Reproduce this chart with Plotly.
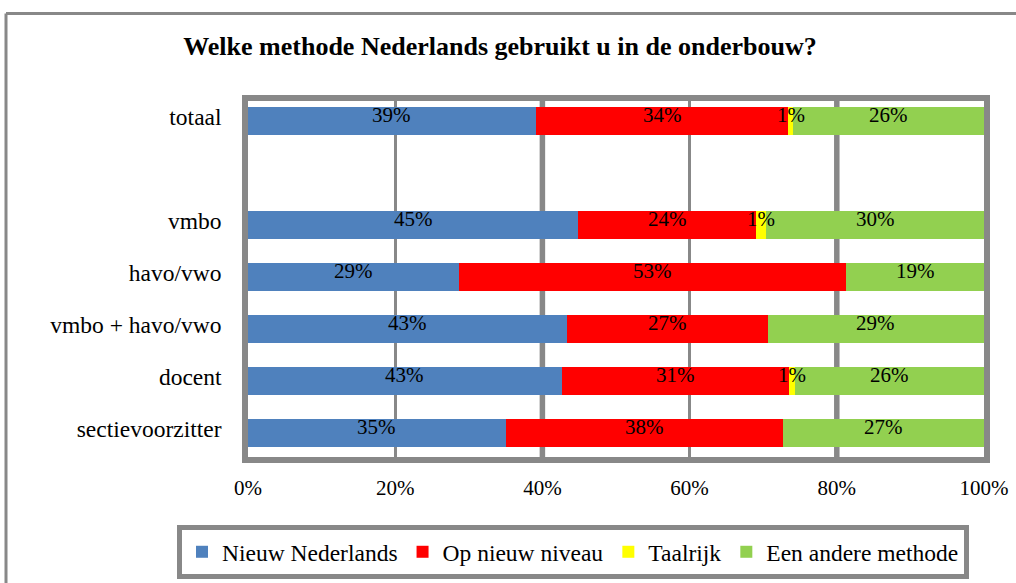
import plotly.graph_objects as go

categories = ["totaal", " ", "vmbo", "havo/vwo", "vmbo + havo/vwo", "docent", "sectievoorzitter"]
series_names = ["Nieuw Nederlands", "Op nieuw niveau", "Taalrijk", "Een andere methode"]
series_colors = ["#4F81BD", "#FF0000", "#FFFF00", "#92D050"]

nieuw_nederlands = [0.391, None, 0.449, 0.287, 0.433, 0.426, 0.350]
op_nieuw_niveau = [0.343, None, 0.241, 0.526, 0.273, 0.309, 0.377]
taalrijk = [0.007, None, 0.014, 0.0, 0.0, 0.008, 0.0]
een_andere_methode = [0.259, None, 0.296, 0.187, 0.294, 0.257, 0.273]
series_values = [nieuw_nederlands, op_nieuw_niveau, taalrijk, een_andere_methode]

x_ticks = [0, 0.2, 0.4, 0.6, 0.8, 1.0]
x_tick_labels = ["0%", "20%", "40%", "60%", "80%", "100%"]

title_text = "Welke methode Nederlands gebruikt u in de onderbouw?"
FONT = "Liberation Serif"
GREY = "#888888"

fig = go.Figure()
for name, color, vals in zip(series_names, series_colors, series_values):
    ys = [c for c, v in zip(categories, vals) if v is not None]
    xs = [v for v in vals if v is not None]
    fig.add_trace(go.Bar(
        y=ys, x=xs, name=name, orientation="h",
        marker=dict(color=color, line=dict(width=0)),
        width=0.53, hoverinfo="skip",
    ))

# data labels centred in each segment
annotations = []
for ci, cat in enumerate(categories):
    start = 0.0
    for vals in series_values:
        v = vals[ci]
        if v is None:
            continue
        if v > 0:
            annotations.append(dict(
                x=start + v / 2, y=cat, xref="x", yref="y",
                text=f"{round(v * 100)}%", showarrow=False,
                font=dict(family=FONT, size=21, color="black"),
                yshift=6,
            ))
        start += v

# plot area geometry (figure pixels) and paper-coordinate helpers
W, H = 1016, 583
L, R, T, B = 248, 984, 101, 457
def px(x):
    return (x - L) / (R - L)
def py(y):
    return (B - y) / (B - T)

shapes = [
    # thicker gridlines at 40% and 80%
    dict(type="line", xref="x", yref="paper", x0=0.4, x1=0.4, y0=0, y1=1,
         line=dict(color=GREY, width=5.5), layer="below"),
    dict(type="line", xref="x", yref="paper", x0=0.8, x1=0.8, y0=0, y1=1,
         line=dict(color=GREY, width=5.5), layer="below"),
    # outer chart frame (partially outside the view)
    dict(type="line", xref="paper", yref="paper", x0=px(6), x1=px(6), y0=py(13.5), y1=py(640),
         line=dict(color=GREY, width=3)),
    dict(type="line", xref="paper", yref="paper", x0=px(6), x1=px(1060), y0=py(13.5), y1=py(13.5),
         line=dict(color=GREY, width=3)),
]

fig.update_layout(
    width=W, height=H,
    barmode="stack",
    paper_bgcolor="white", plot_bgcolor="white",
    margin=dict(l=L, r=W - R, t=T, b=H - B, pad=0, autoexpand=False),
    font=dict(family=FONT, size=21, color="black"),
    title=dict(
        text=title_text, x=500 / W, xanchor="center", xref="container",
        y=1 - 46 / H, yanchor="middle", yref="container",
        font=dict(family=FONT, size=26, color="black", weight=700),
    ),
    xaxis=dict(
        range=[0, 1], tickvals=x_ticks, ticktext=x_tick_labels,
        showgrid=True, gridcolor=GREY, gridwidth=3,
        showline=True, linecolor=GREY, linewidth=5.5, mirror=True,
        zeroline=False, ticks="", ticklabelstandoff=7,
        tickfont=dict(family=FONT, size=21, color="black"),
        fixedrange=True, automargin=False,
    ),
    yaxis=dict(
        categoryorder="array", categoryarray=categories,
        range=[6.461, -0.385], autorange=False,
        showgrid=False, showline=True, linecolor=GREY, linewidth=5.5, mirror=True,
        zeroline=False, ticks="", ticklabelstandoff=16, ticklabelshift=4,
        tickfont=dict(family=FONT, size=23.5, color="black"),
        fixedrange=True, automargin=False,
    ),
    legend=dict(
        orientation="h", xref="paper", yref="paper",
        x=px(177), xanchor="left", y=py(525), yanchor="top",
        bgcolor="white", bordercolor=GREY, borderwidth=5,
        font=dict(family=FONT, size=23.5, color="black"),
        traceorder="normal",
    ),
    annotations=annotations,
    shapes=shapes,
    showlegend=True,
)

fig.write_html(
    "out.html",
    config={"displayModeBar": False},
    post_script="document.body.style.margin='0';document.body.style.overflow='hidden';",
)
